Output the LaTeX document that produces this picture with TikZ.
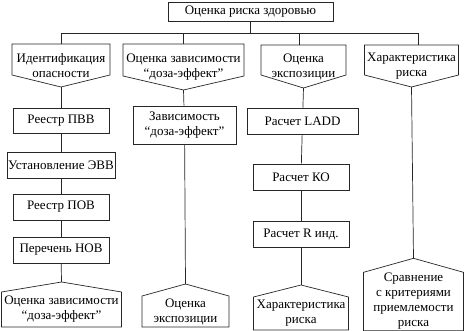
\documentclass[tikz,border=0pt]{standalone}
\usepackage{fontspec}
\setmainfont{Liberation Serif}
\usetikzlibrary{calc, positioning}
\tikzset{
  riskbox/.style={draw=black!85, line width=0.7pt, fill=white, align=center,
    inner sep=1pt, font=\fontsize{13}{15}\selectfont},
  riskshape/.style={riskbox, draw=none, fill=none, outer sep=0pt},
  riskline/.style={draw=black!85, line width=0.7pt},
  boxsize/.style 2 args={minimum width=#1pt, minimum height=#2pt},
}

\begin{document}
\begin{tikzpicture}[x=1pt, y=-1pt]
  \useasboundingbox (0,0) rectangle (465,331);
  \node[riskbox, boxsize={165}{19}] (risk) at (250.5,11.5) {Оценка риска здоровью};
  % second level, pointing down
  \node[riskshape, boxsize={98}{43}] (ident) at (61,65.5) {Идентификация\\опасности};
  \node[riskshape, boxsize={121}{46}] (dose) at (183.5,67) {Оценка зависимости\\“доза-эффект”};
  \node[riskshape, boxsize={85}{43}] (expo) at (303.5,66.5) {Оценка\\экспозиции};
  \node[riskshape, boxsize={94}{42}] (charac) at (411.5,66) {Характеристика\\риска};
  % first column
  \node[riskbox, boxsize={96}{25}] (pvv) at (61,120.5) {Реестр ПВВ};
  \node[riskbox, boxsize={108}{26}] (evv) at (61,165) {Установление ЭВВ};
  \node[riskbox, boxsize={96}{26}] (pov) at (61,207) {Реестр ПОВ};
  \node[riskbox, boxsize={96}{26}] (nov) at (61,250) {Перечень НОВ};
  % second column
  \node[riskbox, boxsize={103}{38}] (zav) at (184.5,125) {Зависимость\\“доза-эффект”};
  % third column
  \node[riskbox, boxsize={111}{26}] (ladd) at (302.5,121) {Расчет LADD};
  \node[riskbox, boxsize={96}{26}] (ko) at (301,177) {Расчет КО};
  \node[riskbox, boxsize={96}{26}] (rind) at (301,234) {Расчет R инд.};
  % last level, pointing up
  \node[riskshape, boxsize={120}{35}] (dzb) at (61.5,309.5) {Оценка зависимости\\“доза-эффект”};
  \node[riskshape, boxsize={87}{31}] (expb) at (185.5,311.5) {Оценка\\экспозиции};
  \node[riskshape, boxsize={95}{33}] (chb) at (301,313.5) {Характеристика\\риска};
  \node[riskshape, boxsize={100}{57}] (cmp) at (413.5,301.5) {Сравнение\\с критериями\\приемлемости\\риска};
  \foreach \n/\s in {ident/12, dose/14, expo/13, charac/12}
    \draw[riskline] (\n.north west) -- (\n.north east) -- ($(\n.south east)+(0,-\s)$)
      -- (\n.south) -- ($(\n.south west)+(0,-\s)$) -- cycle;
  \foreach \n/\t in {dzb/10, expb/12, chb/12, cmp/14}
    \draw[riskline] (\n.south west) -- (\n.north west) -- ($(\n.north)+(0,-\t)$) coordinate (\n-tip)
      -- (\n.north east) -- (\n.south east) -- cycle;
  % connectors
  \draw[riskline] (risk.south) -- ++(0,12) coordinate (bus);
  \draw[riskline] (ident.north) |- (bus) -| ([xshift=7pt]charac.north);
  \draw[riskline] (dose.north) -- (dose.north |- bus);
  \draw[riskline] ([xshift=-4pt]expo.north) -- ([xshift=-4pt]expo.north |- bus);
  \foreach \a/\b in {ident.south/pvv, pvv/evv, evv/pov, pov/nov, nov/dzb-tip,
      dose.south/zav, zav/expb-tip, expo.south/ladd, ladd/ko, ko/rind, rind/chb-tip,
      charac.south/cmp-tip}
    \draw[riskline] (\a) -- (\b);
\end{tikzpicture}
\end{document}
